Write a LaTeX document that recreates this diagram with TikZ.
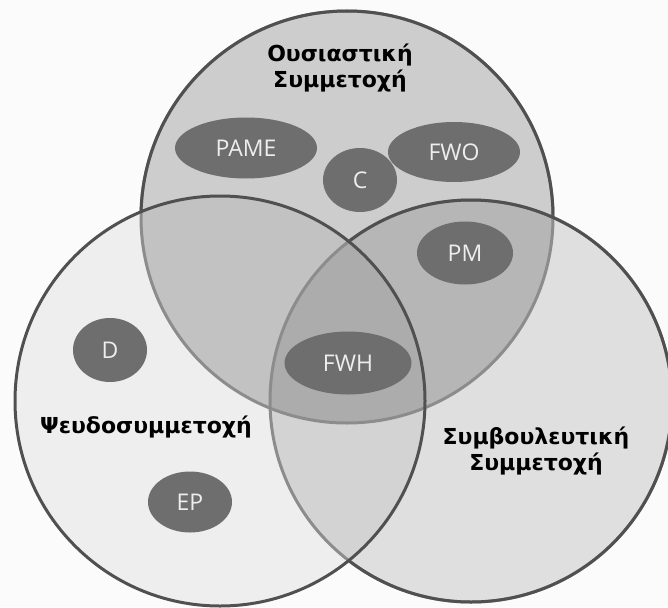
\documentclass[tikz,border=0pt]{standalone}
\usepackage{fontspec}
\setmainfont{DejaVu Sans}
\newfontfamily\lblfont{Open Sans}
\usetikzlibrary{shapes.geometric}
\definecolor{bgc}{RGB}{251,251,251}
\definecolor{edgedark}{RGB}{80,80,80}
\definecolor{edgelight}{RGB}{140,140,140}
\definecolor{blobc}{RGB}{110,110,110}
\definecolor{blobtext}{RGB}{238,238,238}
\tikzset{
  blob/.style={ellipse, fill=blobc, inner sep=0pt, text=blobtext,
    font=\lblfont\fontsize{23}{23}\selectfont},
  title/.style={font=\bfseries\fontsize{22}{26}\selectfont, align=center, text=black},
  ring/.style={line width=3pt, draw=edgedark},
  ringlight/.style={line width=3pt, draw=edgelight},
}
\begin{document}
\begin{tikzpicture}[x=1pt,y=-1pt]
\useasboundingbox (0,0) rectangle (668,607);
\fill[bgc] (0,0) rectangle (668,607);
\coordinate (ct) at (347,217);
\coordinate (cl) at (220,401);
\coordinate (cr) at (471,401);
% fills
\fill[black, fill opacity=0.18] (ct) circle[radius=206pt];
\fill[black, fill opacity=0.11] (cr) circle[radius=201pt];
\fill[black, fill opacity=0.05] (cl) circle[radius=205pt];
% outlines
\draw[ringlight] (ct) circle[radius=206pt];
\begin{scope}[even odd rule]
  \clip (-20,-20) rectangle (700,640) (cl) circle[radius=205pt];
  \clip (-20,-20) rectangle (700,640) (cr) circle[radius=201pt];
  \draw[ring] (ct) circle[radius=206pt];
\end{scope}
\draw[ringlight] (cr) circle[radius=201pt];
\begin{scope}[even odd rule]
  \clip (-20,-20) rectangle (700,640) (cl) circle[radius=205pt];
  \draw[ring] (cr) circle[radius=201pt];
\end{scope}
\draw[ring] (cl) circle[radius=205pt];
% blobs
\node[blob, minimum width=142pt, minimum height=61pt] (pame) at (246,148) {PAME};
\node[blob, minimum width=74pt, minimum height=64pt] (c) at (360,180) {C};
\node[blob, minimum width=132pt, minimum height=60pt] (fwo) at (454,152) {FWO};
\node[blob, minimum width=96pt, minimum height=63pt] (pm) at (465,253) {PM};
\node[blob, minimum width=127pt, minimum height=63pt] (fwh) at (348,363) {FWH};
\node[blob, minimum width=74pt, minimum height=64pt] (d) at (110,350) {D};
\node[blob, minimum width=84pt, minimum height=61pt] (ep) at (190,502) {EP};
% titles
\node[title] (t1) at (340,68) {Ουσιαστική\\Συμμετοχή};
\node[title] (t2) at (146,427) {Ψευδοσυμμετοχή};
\node[title] (t3) at (536,451) {Συμβουλευτική\\Συμμετοχή};
\end{tikzpicture}
\end{document}
